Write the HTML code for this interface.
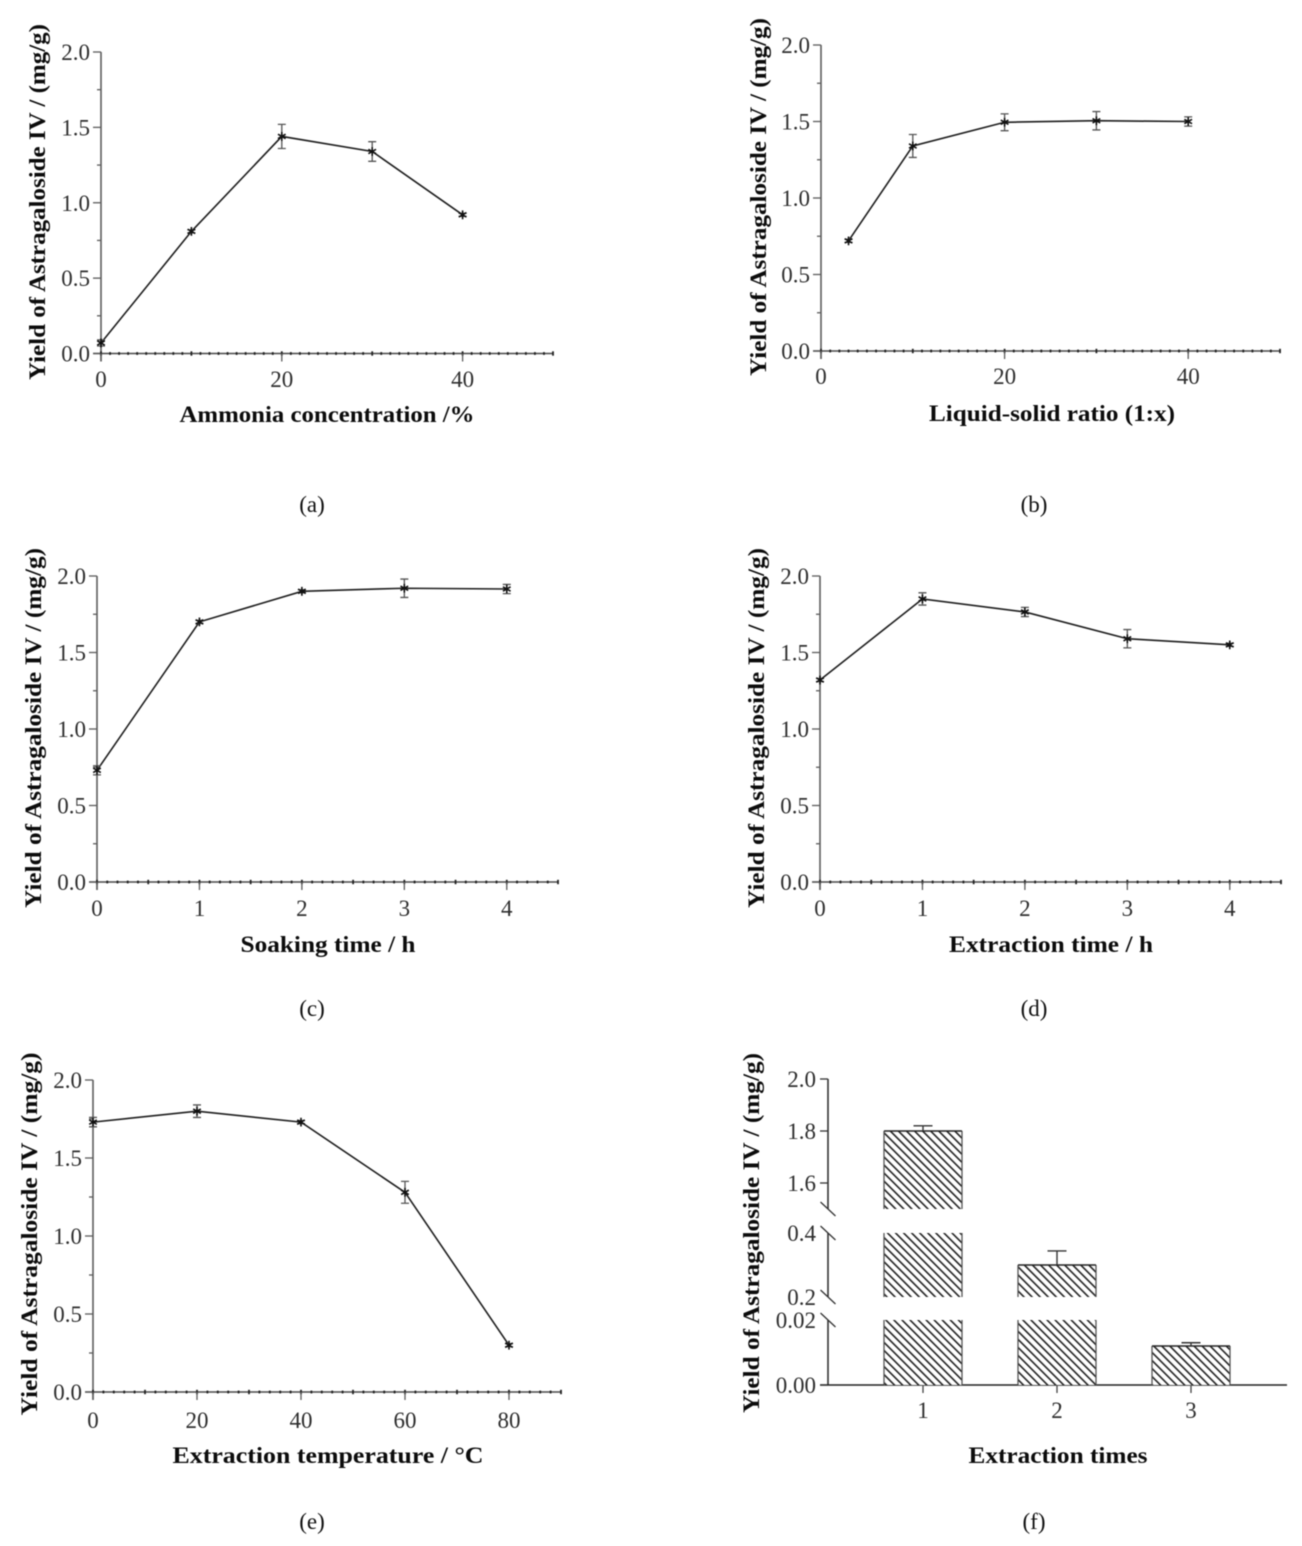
<!DOCTYPE html>
<html lang="en">
<head>
<meta charset="utf-8">
<title>Yield of Astragaloside IV</title>
<style>
html,body{margin:0;padding:0;background:#fff;width:1302px;height:1546px;overflow:hidden}
svg{display:block;filter:blur(0.45px)}
text{font-family:"Liberation Serif",serif;fill:#2e2e2e}
.tick{font-size:23px}
.title{font-size:23.5px;font-weight:bold;fill:#0c0c0c}
.cap{font-size:23px;fill:#111}
</style>
</head>
<body>
<svg id="figure" xmlns="http://www.w3.org/2000/svg" width="1302" height="1546" viewBox="0 0 1302 1546">
<defs>
<pattern id="hatch" width="5.7" height="5.7" patternUnits="userSpaceOnUse" patternTransform="rotate(-45)">
<rect width="5.7" height="5.7" fill="#fff"/>
<rect x="0" y="0" width="1.6" height="5.7" fill="#222"/>
</pattern>
</defs>
<g id="panel-a">
<text class="title" transform="translate(45,202) rotate(-90)" text-anchor="middle" textLength="356" lengthAdjust="spacingAndGlyphs">Yield of Astragaloside IV / (mg/g)</text>
<text class="title" x="327" y="422" text-anchor="middle" textLength="295" lengthAdjust="spacingAndGlyphs">Ammonia concentration /%</text>
<text class="cap" x="312" y="512" text-anchor="middle">(a)</text>
</g>
<g id="panel-b">
<text class="title" transform="translate(766,197) rotate(-90)" text-anchor="middle" textLength="358" lengthAdjust="spacingAndGlyphs">Yield of Astragaloside IV / (mg/g)</text>
<text class="title" x="1052" y="421" text-anchor="middle" textLength="246" lengthAdjust="spacingAndGlyphs">Liquid-solid ratio (1:x)</text>
<text class="cap" x="1034" y="512" text-anchor="middle">(b)</text>
</g>
<g id="panel-c">
<text class="title" transform="translate(41,728) rotate(-90)" text-anchor="middle" textLength="360" lengthAdjust="spacingAndGlyphs">Yield of Astragaloside IV / (mg/g)</text>
<text class="title" x="328" y="952" text-anchor="middle" textLength="175" lengthAdjust="spacingAndGlyphs">Soaking time / h</text>
<text class="cap" x="312" y="1016" text-anchor="middle">(c)</text>
</g>
<g id="panel-d">
<text class="title" transform="translate(764,728) rotate(-90)" text-anchor="middle" textLength="360" lengthAdjust="spacingAndGlyphs">Yield of Astragaloside IV / (mg/g)</text>
<text class="title" x="1051" y="952" text-anchor="middle" textLength="204" lengthAdjust="spacingAndGlyphs">Extraction time / h</text>
<text class="cap" x="1034" y="1016" text-anchor="middle">(d)</text>
</g>
<g id="panel-e">
<text class="title" transform="translate(37,1234) rotate(-90)" text-anchor="middle" textLength="363" lengthAdjust="spacingAndGlyphs">Yield of Astragaloside IV / (mg/g)</text>
<text class="title" x="328" y="1463" text-anchor="middle" textLength="311" lengthAdjust="spacingAndGlyphs">Extraction temperature / °C</text>
<text class="cap" x="312" y="1529" text-anchor="middle">(e)</text>
</g>
<g id="panel-f">
<text class="title" transform="translate(759,1233) rotate(-90)" text-anchor="middle" textLength="360" lengthAdjust="spacingAndGlyphs">Yield of Astragaloside IV / (mg/g)</text>
<text class="title" x="1058" y="1463" text-anchor="middle" textLength="179" lengthAdjust="spacingAndGlyphs">Extraction times</text>
<text class="cap" x="1034" y="1529" text-anchor="middle">(f)</text>
</g>
</svg>
<script>
// ---- chart data ----
const ammoniaPercent = [0, 10, 20, 30, 40];
const ammoniaYield = [0.07, 0.81, 1.44, 1.34, 0.92];
const ammoniaError = [0.02, 0.01, 0.08, 0.065, 0.01];
const ammoniaTicks = [0, 20, 40];

const ratioX = [3, 10, 20, 30, 40];
const ratioYield = [0.72, 1.34, 1.495, 1.505, 1.5];
const ratioError = [0.01, 0.075, 0.055, 0.06, 0.03];
const ratioTicks = [0, 20, 40];

const soakHours = [0, 1, 2, 3, 4];
const soakYield = [0.73, 1.70, 1.90, 1.92, 1.915];
const soakError = [0.03, 0.01, 0.01, 0.06, 0.03];
const soakTicks = [0, 1, 2, 3, 4];

const extractHours = [0, 1, 2, 3, 4];
const extractYield = [1.32, 1.85, 1.765, 1.59, 1.55];
const extractError = [0.01, 0.04, 0.03, 0.06, 0.01];
const extractTicks = [0, 1, 2, 3, 4];

const tempC = [0, 20, 40, 60, 80];
const tempYield = [1.73, 1.80, 1.73, 1.28, 0.30];
const tempError = [0.03, 0.04, 0.01, 0.07, 0.01];
const tempTicks = [0, 20, 40, 60, 80];

const yTickValues = [0, 0.5, 1, 1.5, 2];
const yTickLabels = ['0.0', '0.5', '1.0', '1.5', '2.0'];

const timesCategories = ['1', '2', '3'];
const timesYield = [1.80, 0.30, 0.012];
const timesError = [0.02, 0.044, 0.001];
const brokenTickValues = [0, 0.02, 0.2, 0.4, 1.6, 1.8, 2.0];
const brokenTickLabels = ['0.00', '0.02', '0.2', '0.4', '1.6', '1.8', '2.0'];

// ---- helpers ----
const NS = 'http://www.w3.org/2000/svg';
function add(parent, tag, attrs, content) {
  const el = document.createElementNS(NS, tag);
  for (const k in attrs) el.setAttribute(k, attrs[k]);
  if (content !== undefined) el.textContent = content;
  parent.appendChild(el);
  return el;
}
function lin(d0, d1, r0, r1) {
  return v => r0 + (v - d0) * (r1 - r0) / (d1 - d0);
}
function stroke(c, w) { return { stroke: c, 'stroke-width': w, fill: 'none' }; }

// ---- line panels ----
function linePanel(id, xs, ys, es, xTicks, o) {
  const root = document.getElementById(id);
  const sx = lin(0, o.xMax, o.x0, o.x1);
  const sy = lin(0, 2, o.y0, o.y2);
  const axisC = '#5c5c5c';

  const yAxis = add(root, 'line', Object.assign({ x1: o.x0, x2: o.x0, y1: o.y2, y2: o.y0 + 8 }, stroke(axisC, 1.6)));
  
  

  const xAxis = add(root, 'line', Object.assign({ x1: o.x0 - 8, x2: o.x1, y1: o.y0, y2: o.y0 }, stroke('#4a4a4a', 1.4)));
  
  

  yTickValues.forEach((v, i) => {
    const t = add(root, 'line', Object.assign({ x1: o.x0 - 8, x2: o.x0, y1: sy(v), y2: sy(v) }, stroke(axisC, 1.3)));
    
    
    const lab = add(root, 'text', { class: 'tick', x: o.x0 - 11, y: sy(v) + 8, 'text-anchor': 'end' }, yTickLabels[i]);
    
    
    if (i < yTickValues.length - 1) {
      const m = add(root, 'line', Object.assign({ x1: o.x0 - 4, x2: o.x0, y1: sy(v + 0.25), y2: sy(v + 0.25) }, stroke(axisC, 1.3)));
      
      
    }
  });

  const nMinor = Math.round(o.xMax / o.minor);
  for (let i = 0; i <= nMinor; i++) {
    const v = i * o.minor;
    const isMid = i % o.midEvery === 0;
    const m = add(root, 'line', Object.assign({ x1: sx(v), x2: sx(v), y1: o.y0 - (isMid ? 2.2 : 1.4), y2: o.y0 + (isMid ? 2.2 : 1.4) }, stroke('#222', 1.8)));
    
    
  }
  xTicks.forEach(v => {
    const t = add(root, 'line', Object.assign({ x1: sx(v), x2: sx(v), y1: o.y0, y2: o.y0 + 8 }, stroke(axisC, 1.3)));
    
    
    const lab = add(root, 'text', { class: 'tick', x: sx(v), y: o.labelY, 'text-anchor': 'middle' }, String(v));
    
    
  });

  const pts = xs.map((x, i) => sx(x) + ',' + sy(ys[i])).join(' ');
  const series = add(root, 'polyline', Object.assign({ points: pts }, stroke('#1e1e1e', 1.6)));
  
  

  xs.forEach((x, i) => {
    const px = sx(x), py = sy(ys[i]);
    const top = sy(ys[i] + es[i]), bot = sy(ys[i] - es[i]);
    const err = add(root, 'path', Object.assign({ d: `M${px},${top}V${bot}M${px - 4},${top}H${px + 4}M${px - 4},${bot}H${px + 4}` }, stroke('#555', 1.3)));
    
    
    const r = 4.4, q = r * 0.87, h = r * 0.5;
    const mk = add(root, 'path', Object.assign({ d: `M${px},${py - r}V${py + r}M${px - q},${py - h}L${px + q},${py + h}M${px - q},${py + h}L${px + q},${py - h}` }, stroke('#111', 1.6)));
    
    
  });
}

linePanel('panel-a', ammoniaPercent, ammoniaYield, ammoniaError, ammoniaTicks,
  { x0: 101, x1: 553, xMax: 50, y0: 353.5, y2: 52, minor: 1, midEvery: 10, labelY: 387 });
linePanel('panel-b', ratioX, ratioYield, ratioError, ratioTicks,
  { x0: 821, x1: 1280, xMax: 50, y0: 351, y2: 45, minor: 1, midEvery: 10, labelY: 384 });
linePanel('panel-c', soakHours, soakYield, soakError, soakTicks,
  { x0: 97, x1: 558, xMax: 4.5, y0: 882, y2: 576, minor: 0.1, midEvery: 5, labelY: 916 });
linePanel('panel-d', extractHours, extractYield, extractError, extractTicks,
  { x0: 820, x1: 1281, xMax: 4.5, y0: 882, y2: 576, minor: 0.1, midEvery: 5, labelY: 916 });
linePanel('panel-e', tempC, tempYield, tempError, tempTicks,
  { x0: 93, x1: 561, xMax: 90, y0: 1392, y2: 1080, minor: 2, midEvery: 5, labelY: 1428 });

// ---- broken-axis bar panel ----
(function () {
  const root = document.getElementById('panel-f');
  const axisX = 828, baseY = 1385, c0 = 923, step = 134, halfW = 39;
  const segs = [
    { lo: 0, hi: 0.02, s: lin(0, 0.02, 1385, 1320) },
    { lo: 0.2, hi: 0.4, s: lin(0.2, 0.4, 1297, 1233) },
    { lo: 1.5, hi: 2.0, s: lin(1.6, 2.0, 1183, 1079) }
  ];
  const sy = v => {
    for (const g of segs) if (v <= g.hi) return g.s(Math.max(v, g.lo));
    return segs[2].s(v);
  };

  segs.forEach(g => {
    const a = add(root, 'line', Object.assign({ x1: axisX, x2: axisX, y1: g.s(g.lo), y2: g.s(g.hi) }, stroke('#333', 1.6)));
    
    
  });
  const xa = add(root, 'line', Object.assign({ x1: 820, x2: 1287, y1: baseY, y2: baseY }, stroke('#222', 1.6)));
  
  

  brokenTickValues.forEach((v, i) => {
    const y = sy(v);
    const isBreakEnd = v === 0.02 || v === 0.2 || v === 0.4;
    if (!isBreakEnd) {
      const t = add(root, 'line', Object.assign({ x1: axisX - 8, x2: axisX, y1: y, y2: y }, stroke('#333', 1.3)));
      
      
    }
    const lab = add(root, 'text', { class: 'tick', x: 816, y: y + 8, 'text-anchor': 'end' }, brokenTickLabels[i]);
    
    
  });

  segs.forEach((g, i) => {
    [g.s(g.lo), g.s(g.hi)].forEach((y, j) => {
      if (i === 2 && j === 1) return;
      if (i === 0 && j === 0) return;
      const sl = add(root, 'line', Object.assign({ x1: axisX - 7.5, x2: axisX + 7.5, y1: y - 7, y2: y + 7 }, stroke('#333', 1.3)));
      
      
    });
  });

  timesCategories.forEach((cat, i) => {
    const cx = c0 + i * step, val = timesYield[i];
    segs.forEach(g => {
      if (val <= g.lo) return;
      const topVal = Math.min(val, g.hi);
      const yTop = g.s(topVal), yBot = g.s(g.lo);
      const r = add(root, 'rect', { x: cx - halfW, y: yTop, width: halfW * 2, height: yBot - yTop, fill: 'url(#hatch)' });
      
      
      const sides = add(root, 'path', Object.assign({ d: `M${cx - halfW},${yBot}V${yTop}M${cx + halfW},${yTop}V${yBot}` }, stroke('#555', 1.3)));
      
      
    });
    const yv = sy(val), ye = sy(val + timesError[i]);
    const top = add(root, 'line', Object.assign({ x1: cx - halfW, x2: cx + halfW, y1: yv, y2: yv }, stroke('#222', 1.5)));
    
    
    const err = add(root, 'path', Object.assign({ d: `M${cx},${yv}V${ye}M${cx - 9.5},${ye}H${cx + 9.5}` }, stroke('#333', 1.4)));
    
    
    const t = add(root, 'line', Object.assign({ x1: cx, x2: cx, y1: baseY, y2: baseY + 8 }, stroke('#444', 1.3)));
    
    
    const lab = add(root, 'text', { class: 'tick', x: cx, y: 1418, 'text-anchor': 'middle' }, cat);
    
    
  });
})();
</script>
</body>
</html>
